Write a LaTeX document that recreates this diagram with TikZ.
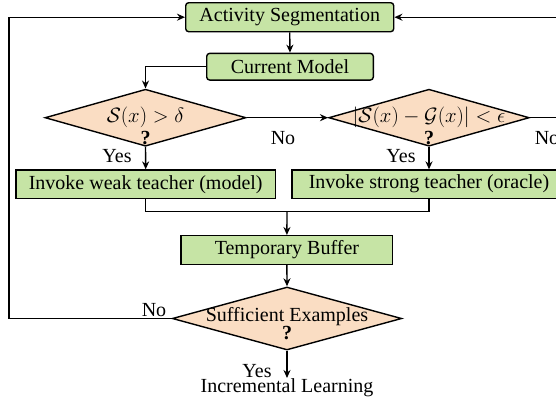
\documentclass[tikz,border=0pt]{standalone}
\usepackage{fontspec}
\setmainfont{Liberation Serif}
\usetikzlibrary{arrows.meta,shapes.geometric}
\definecolor{boxgreen}{RGB}{198,228,165}
\definecolor{diaorange}{RGB}{250,221,195}
\tikzset{
  every node/.style={font=\fontsize{20}{22}\selectfont},
  rbox/.style={draw=black, line width=1.4pt, fill=boxgreen, rounded corners=3pt, inner sep=0pt},
  sbox/.style={draw=black, line width=1.4pt, fill=boxgreen, inner sep=0pt},
  dia/.style={draw=black, line width=1.4pt, fill=diaorange, diamond, inner sep=0pt},
  conn/.style={line width=1.4pt},
  arr/.style={line width=1.4pt, -{Stealth[length=8pt,width=7pt]}},
  lbl/.style={inner sep=0pt},
  qm/.style={inner sep=0pt, font=\fontsize{20}{22}\selectfont\bfseries}
}
\begin{document}
\begin{tikzpicture}[x=1pt,y=-1pt]
\useasboundingbox (0,0) rectangle (556,402);
\clip (0,0) rectangle (556,402);
% boxes
\node[rbox, minimum width=208pt, minimum height=29pt] (act) at (289.7,17.2) {Activity Segmentation};
\node[rbox, minimum width=166.6pt, minimum height=26.7pt] (cur) at (290,66.7) {Current Model};
\node[dia, minimum width=201pt, minimum height=57pt] (d1) at (145.5,117.7) {};
\node[lbl] (t1) at (145.5,117) {$\mathcal{S}(x) > \delta$};
\node[qm] (q1) at (145.5,138) {?};
\node[dia, minimum width=200.6pt, minimum height=57pt] (d2) at (429,117.7) {};
\node[lbl] (t2) at (429,117) {$|\mathcal{S}(x) - \mathcal{G}(x)| < \epsilon$};
\node[qm] (q2) at (429,138) {?};
\node[sbox, minimum width=259.3pt, minimum height=28.3pt] (weak) at (145.7,184.2) {Invoke weak teacher (model)};
\node[sbox, minimum width=274pt, minimum height=28.3pt] (strong) at (429,184.2) {Invoke strong teacher (oracle)};
\node[sbox, minimum width=211.7pt, minimum height=28.6pt] (temp) at (286.9,250) {Temporary Buffer};
\node[dia, minimum width=229.4pt, minimum height=63pt] (d3) at (287,318.5) {};
\node[lbl] (t3) at (287,317) {Sufficient Examples};
\node[qm] (q3) at (287,333) {?};
\node[lbl, anchor=north] (il) at (287,378) {Incremental Learning};
% labels
\node[lbl] (no1) at (283,138) {No};
\node[lbl] (no2) at (547,138) {No};
\node[lbl] (no3) at (154,310) {No};
\node[lbl] (y1) at (117,156) {Yes};
\node[lbl] (y2) at (401,156) {Yes};
\node[lbl] (y3) at (257,371) {Yes};
% coordinates
\coordinate (m) at (287,211.5);
\coordinate (lft) at (9,17.2);
\coordinate (rgt) at (575,17.2);
% connectors
\draw[arr] (act.south) -- (cur.north);
\draw[arr] (cur.west) -| (d1.north);
\draw[arr] (d1.east) -- (d2.west);
\draw[arr] (d1.south) -- (weak.north);
\draw[arr] (d2.south) -- (strong.north);
\draw[conn] (weak.south) |- (m) -| (strong.south);
\draw[arr] (m) -- (temp.north);
\draw[arr] (temp.south) -- (d3.north);
\draw[arr] (d3.south) -- (il.north);
\draw[arr] (d3.west) -| (lft) -- (act.west);
\draw[arr] (d2.east) -| (rgt) -- (act.east);
\end{tikzpicture}
\end{document}
